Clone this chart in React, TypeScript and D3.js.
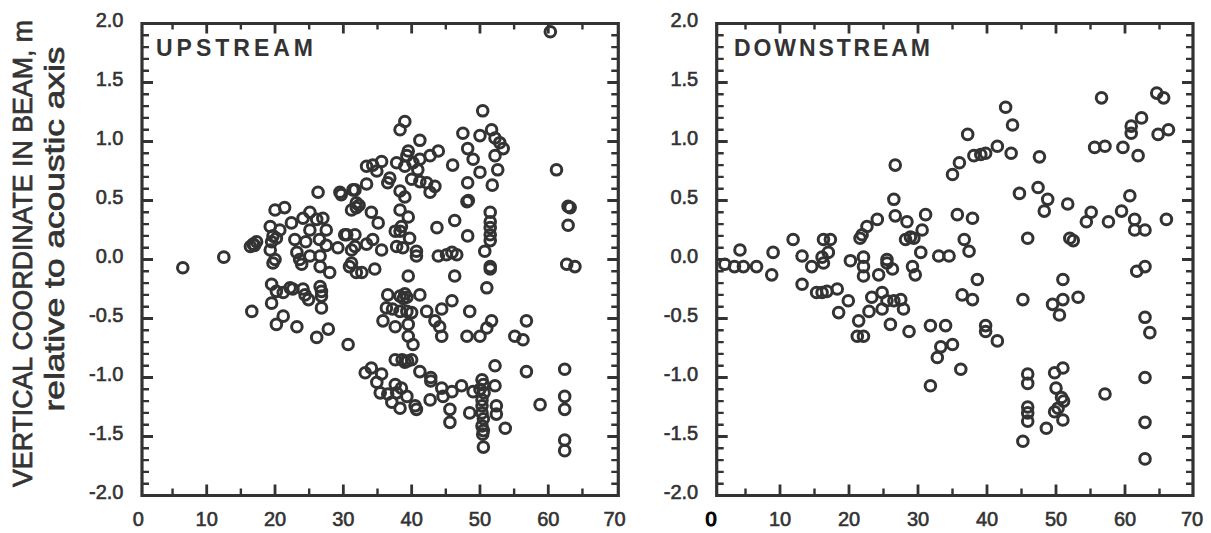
import React from "react";
import * as d3 from "d3";

// ---------- DATA ----------
const xTickValues = [0, 10, 20, 30, 40, 50, 60, 70];
const xMinorValues = [5, 15, 25, 35, 45, 55, 65];
const yTickValues = [2.0, 1.5, 1.0, 0.5, 0.0, -0.5, -1.0, -1.5, -2.0];
const yTickLabels = ["2.0", "1.5", "1.0", "0.5", "0.0", "-0.5", "-1.0", "-1.5", "-2.0"];
const yMinorValues = [
  1.9, 1.8, 1.7, 1.6, 1.4, 1.3, 1.2, 1.1, 0.9, 0.8, 0.7, 0.6, 0.4, 0.3, 0.2, 0.1,
  -0.1, -0.2, -0.3, -0.4, -0.6, -0.7, -0.8, -0.9, -1.1, -1.2, -1.3, -1.4, -1.6, -1.7, -1.8, -1.9,
];

const panelTitles = ["UPSTREAM", "DOWNSTREAM"];
const yTitleLine1 = "VERTICAL COORDINATE IN BEAM, m";
const yTitleLine2 = "relative to acoustic axis";

// [distance, vertical coordinate]
const upstreamPoints: [number, number][] = [
  [6.5, -0.07], [12.5, 0.02],
  [16.4, 0.11], [16.8, 0.13], [17.3, 0.15], [17.0, 0.12],
  [19.3, 0.28], [20.0, 0.42], [21.4, 0.44], [19.7, 0.2], [20.7, 0.25], [19.3, 0.08], [20.0, 0.0], [19.5, 0.15], [20.2, 0.18],
  [22.4, 0.31], [22.9, 0.17], [23.2, 0.06], [24.1, 0.35], [25.1, 0.4], [25.1, 0.25], [26.1, 0.34], [27.0, 0.35], [27.5, 0.25],
  [26.3, 0.57], [29.5, 0.57], [31.7, 0.59], [31.9, 0.44], [32.3, 0.46], [31.2, 0.42], [30.5, 0.21], [29.2, 0.1], [31.7, 0.11],
  [26.6, 0.03], [25.1, 0.03], [23.6, 0.0], [24.5, 0.15], [26.5, 0.17], [27.5, 0.12],
  [60.3, 1.93], [50.4, 1.26], [39.0, 1.17], [38.3, 1.1], [41.2, 1.01], [47.5, 1.07], [50.0, 1.05], [51.7, 1.1], [52.2, 1.03],
  [52.9, 0.99], [53.4, 0.94], [48.2, 0.94], [43.9, 0.92], [42.7, 0.88], [41.2, 0.85], [39.5, 0.92], [39.3, 0.88], [37.8, 0.82],
  [39.0, 0.79], [40.2, 0.82], [40.9, 0.76], [35.6, 0.83], [34.3, 0.8], [33.4, 0.79], [34.9, 0.75], [46.0, 0.8], [49.0, 0.85],
  [52.2, 0.88], [52.6, 0.76], [50.0, 0.74], [48.2, 0.65], [51.8, 0.63], [61.2, 0.76], [36.8, 0.69], [36.5, 0.65], [38.3, 0.58],
  [39.0, 0.53], [40.0, 0.68], [41.2, 0.66], [42.2, 0.65], [43.4, 0.62], [42.7, 0.57], [33.4, 0.64], [31.4, 0.59], [29.7, 0.55],
  [31.9, 0.48], [34.1, 0.4], [35.1, 0.31], [38.3, 0.42], [39.5, 0.36], [38.5, 0.28], [38.3, 0.24], [37.6, 0.24], [39.7, 0.18],
  [34.3, 0.17], [33.4, 0.13], [30.2, 0.21], [31.7, 0.21], [31.2, 0.08], [35.6, 0.08], [37.8, 0.11], [38.7, 0.1], [40.7, 0.07],
  [40.7, 0.03], [43.9, 0.03], [45.1, 0.04], [45.9, 0.06], [46.6, 0.04], [43.7, 0.27], [46.3, 0.33], [48.2, 0.2], [48.1, 0.49],
  [48.3, 0.5], [51.5, 0.4], [51.5, 0.32], [51.5, 0.27], [51.5, 0.21], [51.5, 0.16], [50.7, 0.07], [51.5, -0.06],
  [62.9, 0.45], [63.2, 0.44], [62.9, 0.29], [62.7, -0.04], [63.9, -0.06],
  [19.7, -0.03], [23.9, -0.04], [26.6, -0.06], [28.0, -0.11], [30.9, -0.06], [31.9, -0.11], [19.5, -0.21], [20.2, -0.27],
  [21.2, -0.28], [22.2, -0.24], [22.6, -0.25], [24.1, -0.25], [24.4, -0.3], [24.9, -0.34], [26.6, -0.23], [26.8, -0.27],
  [26.8, -0.31], [26.8, -0.41], [19.5, -0.37], [21.2, -0.48], [20.2, -0.55], [16.6, -0.44], [23.2, -0.57], [26.1, -0.66],
  [27.8, -0.59], [30.7, -0.72],
  [31.2, -0.03], [32.7, -0.11], [34.6, -0.08], [39.5, -0.14], [46.3, -0.14], [51.5, -0.08], [51.0, -0.24],
  [36.5, -0.3], [38.3, -0.31], [38.8, -0.33], [39.3, -0.32], [39.0, -0.29], [41.2, -0.3], [36.3, -0.41], [37.2, -0.42],
  [38.3, -0.44], [39.3, -0.44], [40.0, -0.45], [35.8, -0.52], [37.6, -0.57], [39.5, -0.55], [39.5, -0.65], [40.2, -0.72],
  [42.2, -0.44], [44.4, -0.42], [43.4, -0.52], [44.1, -0.57], [44.4, -0.65], [45.9, -0.35], [48.5, -0.44], [48.1, -0.65],
  [50.0, -0.65], [51.0, -0.58], [51.7, -0.52], [55.1, -0.65], [56.3, -0.68], [56.8, -0.52],
  [37.6, -0.85], [38.6, -0.85], [39.0, -0.87], [39.4, -0.86], [40.0, -0.85], [41.2, -0.95], [34.1, -0.92], [33.2, -0.96],
  [35.6, -0.97], [34.9, -1.04], [37.6, -1.06], [38.5, -1.09], [35.4, -1.13], [36.5, -1.14], [37.8, -1.13], [39.3, -1.16],
  [37.1, -1.21], [38.3, -1.26], [40.5, -1.24], [40.7, -1.27], [42.8, -1.03], [42.8, -1.0], [44.4, -1.09], [45.9, -1.12],
  [47.3, -1.07], [42.7, -1.19], [44.6, -1.16], [45.6, -1.27], [45.6, -1.38], [49.0, -1.12], [50.0, -1.1], [50.6, -1.13],
  [50.3, -1.19], [50.3, -1.24], [48.5, -1.3], [52.2, -1.07], [52.4, -1.24], [52.4, -1.31], [53.7, -1.43], [50.3, -1.41],
  [50.5, -1.45], [50.4, -1.48], [50.5, -1.59], [50.3, -1.3], [50.5, -1.35], [50.3, -1.02], [50.5, -1.06], [52.2, -0.9],
  [58.8, -1.23], [56.8, -0.95], [62.4, -0.93], [62.4, -1.16], [62.4, -1.27], [62.4, -1.53], [62.4, -1.62],
];

const downstreamPoints: [number, number][] = [
  [2.0, -0.04], [3.4, -0.06], [4.7, -0.06], [6.6, -0.06], [4.2, 0.08], [8.8, -0.13], [9.0, 0.06], [11.9, 0.17], [13.2, 0.03],
  [13.2, -0.21], [14.6, -0.06], [16.3, -0.03], [16.1, 0.02], [17.0, 0.06], [16.3, 0.17], [17.3, 0.17], [15.3, -0.28],
  [16.1, -0.28], [16.8, -0.27], [18.3, -0.25], [19.9, -0.35], [18.5, -0.45], [20.2, -0.01], [22.1, 0.02], [22.1, -0.06],
  [22.1, -0.14], [24.3, -0.13], [26.3, -0.08], [25.5, -0.03], [25.5, 0.0], [21.6, 0.18], [21.9, 0.21], [22.6, 0.28],
  [24.1, 0.34], [26.7, 0.8], [26.5, 0.51], [26.7, 0.37], [28.4, 0.32], [28.2, 0.17], [28.9, 0.19], [29.2, -0.06],
  [29.6, -0.13], [21.4, -0.52], [21.2, -0.65], [22.1, -0.65], [22.9, -0.44], [23.3, -0.32], [24.8, -0.28], [24.8, -0.42],
  [25.5, -0.35], [26.5, -0.35], [27.5, -0.34], [27.9, -0.42], [26.0, -0.55], [28.7, -0.61],
  [56.6, 1.37], [64.6, 1.41], [65.6, 1.37], [42.7, 1.29], [43.7, 1.14], [37.2, 1.06], [62.4, 1.2], [60.9, 1.13], [60.9, 1.07],
  [64.8, 1.06], [66.3, 1.1], [61.9, 0.88], [59.7, 0.95], [57.1, 0.96], [55.6, 0.95], [47.6, 0.87], [43.5, 0.9], [41.5, 0.96],
  [39.8, 0.9], [39.1, 0.89], [38.1, 0.88], [36.0, 0.82], [35.0, 0.72], [44.7, 0.56], [47.4, 0.61], [48.8, 0.51], [48.3, 0.41],
  [51.7, 0.47], [45.9, 0.18], [52.0, 0.18], [52.5, 0.16], [54.4, 0.32], [55.1, 0.4], [57.6, 0.32], [59.5, 0.41], [60.7, 0.54],
  [61.4, 0.34], [61.4, 0.25], [62.9, 0.25], [66.0, 0.34], [35.7, 0.38], [37.9, 0.35], [31.1, 0.38], [30.6, 0.25], [29.4, 0.18],
  [36.7, 0.17], [37.4, 0.07], [30.4, 0.06], [33.0, 0.03], [34.5, 0.03], [61.7, -0.1], [62.9, -0.06],
  [38.6, -0.17], [36.4, -0.3], [37.9, -0.34], [45.2, -0.34], [51.0, -0.17], [51.0, -0.34], [49.5, -0.38], [50.5, -0.47],
  [53.2, -0.32], [62.9, -0.49], [63.6, -0.62], [31.8, -0.56], [34.0, -0.56], [39.8, -0.56], [39.8, -0.61], [41.5, -0.69],
  [35.0, -0.72], [33.3, -0.74], [32.8, -0.83], [36.2, -0.93], [31.8, -1.07], [45.9, -0.97], [45.9, -1.05], [45.9, -1.25],
  [45.9, -1.3], [45.9, -1.37], [45.2, -1.54], [48.6, -1.43], [49.8, -0.96], [51.0, -0.92], [50.0, -1.09], [50.8, -1.17],
  [51.1, -1.2], [49.8, -1.29], [50.3, -1.26], [51.0, -1.36], [57.1, -1.14], [62.9, -1.0], [62.9, -1.38], [62.9, -1.69],
];

// ---------- LAYOUT ----------
const W = 1211;
const H = 533;
const INK = "#333";
const FONT = "'Liberation Sans', Arial, Helvetica, sans-serif";

const panelLayout = [
  { data: upstreamPoints, xr: [138.4, 616.6], frameL: 142, frameR: 618.3, titleX: 156, titleLen: 157 },
  { data: downstreamPoints, xr: [711, 1194], frameL: 716.7, frameR: 1193, titleX: 734, titleLen: 196 },
];

const yScale = d3.scaleLinear().domain([-2, 2]).range([495.5, 23.5]);

function Panel({ idx }: { idx: number }) {
  const p = panelLayout[idx];
  const x = d3.scaleLinear().domain([0, 70]).range(p.xr as [number, number]);
  const top = yScale(2);
  const bottom = yScale(-2);
  const L = p.frameL;
  const R = p.frameR;

  const major: string[] = [];
  const minor: string[] = [];
  yTickValues.forEach((v) => {
    const yy = yScale(v);
    major.push(`M${L},${yy}H${L + 11}M${R},${yy}H${R - 11}`);
  });
  yMinorValues.forEach((v) => {
    const yy = yScale(v);
    minor.push(`M${L},${yy}H${L + 7}M${R},${yy}H${R - 7}`);
  });
  xTickValues.filter((v) => v > 0 && v < 70).forEach((v) => {
    const xx = x(v);
    major.push(`M${xx},${bottom}V${bottom - 11}M${xx},${top}V${top + 10}`);
  });
  xMinorValues.forEach((v) => {
    const xx = x(v);
    minor.push(`M${xx},${bottom}V${bottom - 7}M${xx},${top}V${top + 6}`);
  });

  return (
    <g>
      {p.data.map((d, i) => (
        <circle key={i} cx={x(d[0])} cy={yScale(d[1])} r={5.3} fill="none" stroke={INK} strokeWidth={3} />
      ))}
      <path d={major.join("")} fill="none" stroke={INK} strokeWidth={2.8} />
      <path d={minor.join("")} fill="none" stroke={INK} strokeWidth={2.4} />
      <path d={`M${L},${top}H${R}V${bottom}H${L}Z`} fill="none" stroke={INK} strokeWidth={3.2} />
      {yTickValues.map((v, i) => (
        <text key={"yl" + i} x={L - 18.5} y={yScale(v) + 3.5} textAnchor="end" fontSize={20} fontFamily={FONT}
          fill={INK} stroke={INK} strokeWidth={0.6}>
          {yTickLabels[i]}
        </text>
      ))}
      {xTickValues.map((v) => {
        const special = idx === 1 && v === 0;
        return (
          <text
            key={"xl" + v}
            x={x(v) - (v === 70 ? 2 : 0)}
            y={526}
            textAnchor="middle"
            fontSize={20}
            fontFamily={FONT}
            fill={special ? "#000" : INK}
            stroke={special ? "#000" : INK}
            strokeWidth={special ? 1.2 : 0.6}
          >
            {v}
          </text>
        );
      })}
      <text
        x={p.titleX}
        y={55.5}
        fontSize={23}
        fontWeight="bold"
        fontFamily={FONT}
        fill={INK}
        textLength={p.titleLen}
        lengthAdjust="spacing"
      >
        {panelTitles[idx]}
      </text>
    </g>
  );
}

export default function App() {
  return (
    <svg
      width={W}
      height={H}
      viewBox={`0 0 ${W} ${H}`}
      style={{ position: "absolute", left: 0, top: 0, background: "#fff", display: "block" }}
    >
      <rect x={0} y={0} width={W} height={H} fill="#fff" />
      <Panel idx={0} />
      <Panel idx={1} />
      <text
        transform="translate(32,253.5) rotate(-90)"
        textAnchor="middle"
        fontSize={27}
        fontFamily={FONT}
        fill={INK}
        stroke={INK}
        strokeWidth={0.7}
        textLength={467}
        lengthAdjust="spacingAndGlyphs"
      >
        {yTitleLine1}
      </text>
      <text
        transform="translate(64,229) rotate(-90)"
        textAnchor="middle"
        fontSize={28}
        fontFamily={FONT}
        fill={INK}
        stroke={INK}
        strokeWidth={0.7}
        textLength={365}
        lengthAdjust="spacingAndGlyphs"
      >
        {yTitleLine2}
      </text>
    </svg>
  );
}
